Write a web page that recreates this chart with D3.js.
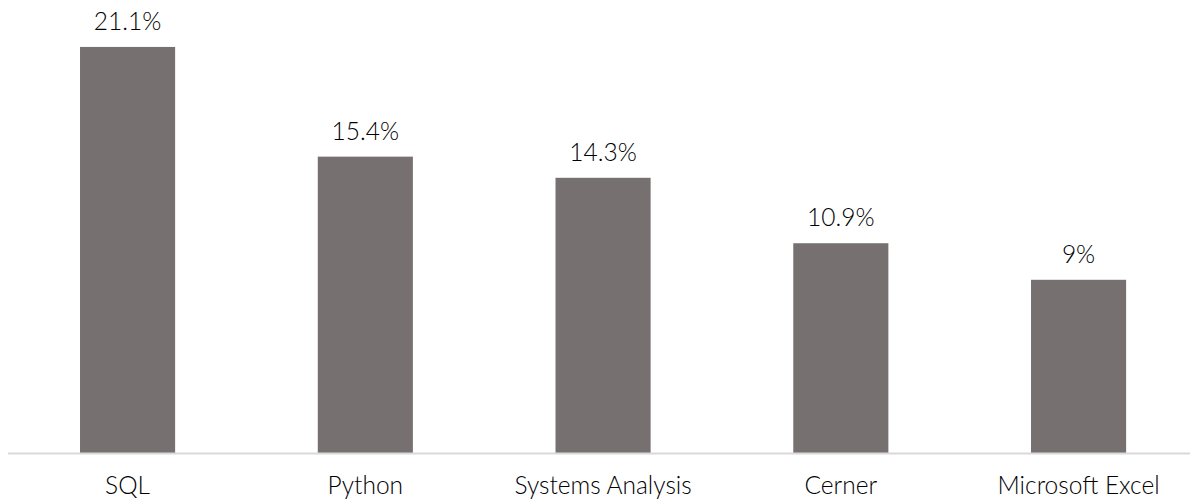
<!DOCTYPE html>
<html>
<head>
<meta charset="utf-8">
<script src="https://cdn.jsdelivr.net/npm/d3@7"></script>
<style>
  body { margin: 0; background: #fff; }
  text { font-family: Lato, "Open Sans", sans-serif; font-weight: 300; }
</style>
</head>
<body>
<div id="chart"></div>
<script>
var categories = ["SQL", "Python", "Systems Analysis", "Cerner", "Microsoft Excel"];
var values = [21.1, 15.4, 14.3, 10.9, 9];
var valueLabels = ["21.1%", "15.4%", "14.3%", "10.9%", "9%"];

var width = 1190,
	height = 502,
	baseline = 453;

var svg = d3.select("#chart").append("svg")
	.attr("width", width)
	.attr("height", height);

var x = d3.scaleBand()
	.domain(categories)
	.range([8.7, 8.7 + 1188.75])
	.paddingInner(0.6)
	.paddingOuter(0.3);

var y = d3.scaleLinear()
	.domain([0, 22.5])
	.range([baseline, 20]);

var data = categories.map(function(c, i){
	return {cat: c, val: values[i], label: valueLabels[i]};
});

svg.selectAll(".bar")
	.data(data)
	.enter().append("rect")
		.attr("class", "bar")
		.attr("fill", "#767170")
		.attr("x", function(d){ return x(d.cat); })
		.attr("width", x.bandwidth())
		.attr("y", function(d){ return y(d.val); })
		.attr("height", function(d){ return baseline - y(d.val); });

// value labels
svg.selectAll(".vlabel")
	.data(data)
	.enter().append("text")
		.attr("class", "vlabel")
		.attr("x", function(d){ return x(d.cat) + x.bandwidth() / 2; })
		.attr("y", function(d){ return y(d.val) - 17; })
		.attr("text-anchor", "middle")
		.attr("font-size", "24.5px")
		.attr("fill", "#000")
		.text(function(d){ return d.label; });

// x axis
var xAxis = svg.append("g")
	.attr("transform", "translate(0," + baseline + ")")
	.call(d3.axisBottom(x).tickSize(0).tickPadding(0));
xAxis.select(".domain").remove();
xAxis.append("line")
	.attr("x1", 8)
	.attr("x2", 1190)
	.attr("y1", 0.5)
	.attr("y2", 0.5)
	.attr("stroke", "#d9d9d9")
	.attr("stroke-width", 2);
xAxis.selectAll(".tick text")
	.attr("dy", null)
	.attr("y", 41)
	.attr("font-size", "24.5px")
	.attr("font-family", "Lato, 'Open Sans', sans-serif")
	.attr("fill", "#000");
</script>
</body>
</html>
